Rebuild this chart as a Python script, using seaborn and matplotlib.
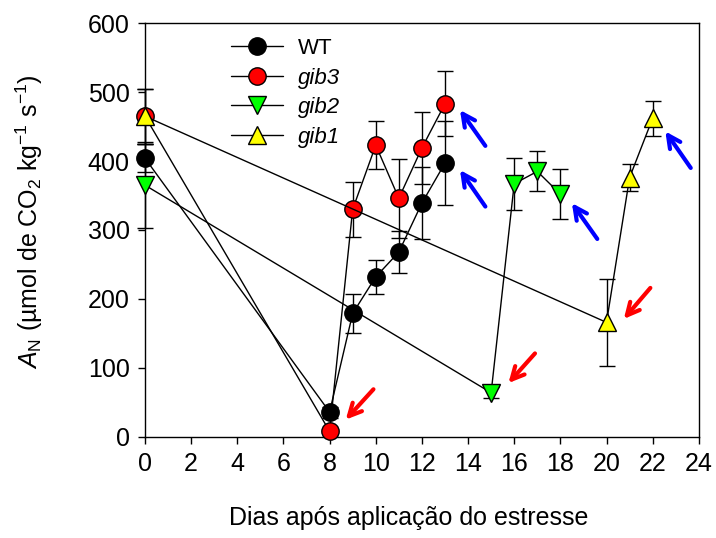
import pandas as pd
import matplotlib
matplotlib.use('Agg')
import matplotlib.pyplot as plt
import seaborn as sns

# values
wt_x = [0, 8, 9, 10, 11, 12, 13]
wt_y = [404, 36, 179, 232, 268, 339, 397]
wt_err = [20, 8, 28, 25, 30, 52, 61]

gib3_x = [0, 8, 9, 10, 11, 12, 13]
gib3_y = [465, 8, 330, 423, 346, 419, 483]
gib3_err = [40, 4, 40, 35, 57, 52, 47]

gib2_x = [0, 15, 16, 17, 18]
gib2_y = [365, 64, 367, 385, 352]
gib2_err = [62, 8, 38, 29, 36]

gib1_x = [0, 20, 21, 22]
gib1_y = [465, 166, 376, 462]
gib1_err = [40, 63, 20, 25]

# arrows: (tail, head)
blue_arrows = [((14.75, 422), (13.65, 474)), ((14.75, 334), (13.65, 387)),
               ((19.6, 287), (18.5, 339)), ((23.65, 390), (22.55, 443))]
red_arrows = [((9.9, 69), (8.7, 25)), ((16.9, 121), (15.75, 78)),
              ((21.9, 216), (20.75, 171))]

sns.set_style('ticks')
plt.rcParams['font.family'] = ['Liberation Sans', 'DejaVu Sans']
plt.rcParams['mathtext.fontset'] = 'custom'
plt.rcParams['mathtext.rm'] = 'Liberation Sans'
plt.rcParams['mathtext.it'] = 'Liberation Sans:italic'
plt.rcParams['text.color'] = 'black'
plt.rcParams['axes.labelcolor'] = 'black'
plt.rcParams['xtick.color'] = 'black'
plt.rcParams['ytick.color'] = 'black'

fig, ax = plt.subplots(figsize=(7.16, 5.38), dpi=100)
fig.subplots_adjust(left=0.2025, right=0.976, top=0.957, bottom=0.188)

series = [
    ('WT', wt_x, wt_y, wt_err, 'o', 'black'),
    ('gib3', gib3_x, gib3_y, gib3_err, 'o', 'red'),
    ('gib2', gib2_x, gib2_y, gib2_err, 'v', '#00ff00'),
    ('gib1', gib1_x, gib1_y, gib1_err, '^', 'yellow'),
]

for name, xs, ys, errs, mk, fc in series:
    df = pd.DataFrame({'x': xs, 'y': ys})
    eb = ax.errorbar(xs, ys, yerr=errs, fmt='none', ecolor='black',
                     elinewidth=1, capsize=5.5, capthick=1, zorder=2)
    for art in eb.get_children():
        art.set_clip_on(False)
    sns.lineplot(data=df, x='x', y='y', ax=ax, color='black', lw=1,
                 marker=mk, markersize=12.5, markerfacecolor=fc,
                 markeredgecolor='black', markeredgewidth=1,
                 label=name, zorder=3, clip_on=False)

arrow_style = '->, head_length=0.9, head_width=0.45'
for tail, head in blue_arrows:
    ax.annotate('', xy=head, xytext=tail,
                arrowprops=dict(arrowstyle=arrow_style, color='blue', lw=3,
                                shrinkA=0, shrinkB=0))
for tail, head in red_arrows:
    ax.annotate('', xy=head, xytext=tail,
                arrowprops=dict(arrowstyle=arrow_style, color='red', lw=3,
                                shrinkA=0, shrinkB=0))

ax.set_xlim(0, 24)
ax.set_ylim(0, 600)
ax.set_xticks(range(0, 25, 2))
ax.set_yticks(range(0, 601, 100))
ax.tick_params(axis='both', labelsize=18, direction='out', length=5, width=1,
               pad=6)
ax.set_xlabel('Dias após aplicação do estresse', fontsize=18)
ax.set_ylabel(r'$\mathit{A}_\mathrm{N}$ (µmol de CO$_2$ kg$^{-1}$ s$^{-1}$)',
              fontsize=18)
ax.xaxis.set_label_coords(0.477, -0.168)
ax.yaxis.set_label_coords(-0.18, 0.52)

for spine in ax.spines.values():
    spine.set_visible(True)
    spine.set_color('black')
    spine.set_linewidth(1)

leg = ax.legend(loc='upper left', bbox_to_anchor=(0.12, 1.012), frameon=False,
                fontsize=16, handlelength=2.3, labelspacing=0.38,
                handletextpad=0.7)
for t in leg.get_texts()[1:]:
    t.set_fontstyle('italic')

fig.savefig('out.png', dpi=100)
